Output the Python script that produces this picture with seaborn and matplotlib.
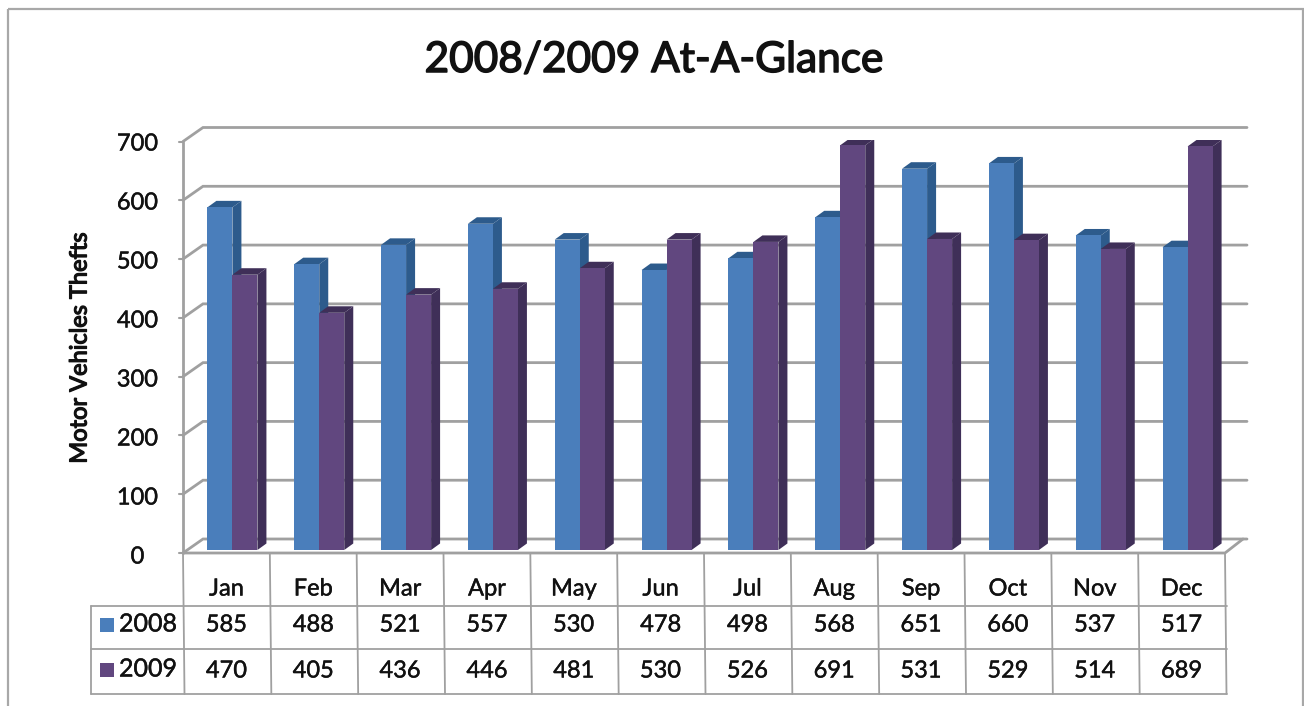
import pandas as pd
import numpy as np
import matplotlib
matplotlib.use('Agg')
import matplotlib.pyplot as plt
import matplotlib.patheffects as pe
from matplotlib.patches import Polygon, Rectangle
import seaborn as sns

sns.set_theme(style='white')
plt.rcParams['font.family'] = ['Lato', 'DejaVu Sans']

# === Data ===
months = ['Jan', 'Feb', 'Mar', 'Apr', 'May', 'Jun', 'Jul', 'Aug', 'Sep', 'Oct', 'Nov', 'Dec']
thefts_2008 = [585, 488, 521, 557, 530, 478, 498, 568, 651, 660, 537, 517]
thefts_2009 = [470, 405, 436, 446, 481, 530, 526, 691, 531, 529, 514, 689]
y_ticks = [0, 100, 200, 300, 400, 500, 600, 700]

df = pd.DataFrame({
    'month': months * 2,
    'thefts': thefts_2008 + thefts_2009,
    'year': ['2008'] * 12 + ['2009'] * 12,
})

W, H = 1304, 706
BLUE, BLUE_DK = '#4a7ebb', '#2d5b8c'
PURPLE, PURPLE_DK = '#61477f', '#3f2f58'
LINE = '#a0a0a0'
TEXT = '#111111'
# thickens the regular face a little, the reference text sits between regular and bold
semi = [pe.withStroke(linewidth=0.3, foreground=TEXT)]

fig = plt.figure(figsize=(W / 100, H / 100), dpi=100, facecolor='white')

# background layer in pixel coordinates, for frame, walls and table
bg = fig.add_axes([0, 0, 1, 1])
bg.set_xlim(0, W)
bg.set_ylim(H, 0)
bg.axis('off')
bg.add_patch(Rectangle((7.5, 8.5), 1295.5, 720, fill=False, ec='#a8a8a8', lw=1.6))

# === Walls and grid ===
x_left, x_right = 183, 1225
px_per_unit = 411.5 / 700
dx_wall, dy_wall = 20, 14
y_zero = 553


def val_y(v):
    return y_zero - v * px_per_unit


for v in y_ticks:
    y = val_y(v)
    bg.plot([x_left, x_left + dx_wall, x_right + dx_wall + 2], [y, y - dy_wall, y - dy_wall], color=LINE, lw=2, solid_joinstyle='miter')
    bg.plot([x_left - 4, x_left], [y, y], color=LINE, lw=1.5)
    bg.text(137.5, 557 - v * 0.59, str(v), ha='center', va='center', fontsize=17, color=TEXT, path_effects=semi)

bg.plot([x_left, x_left], [val_y(700), y_zero], color=LINE, lw=2)
bg.plot([x_left, x_right, x_right + dx_wall - 2], [y_zero, y_zero, y_zero - dy_wall], color=LINE, lw=2)

# === Bars ===
bar_shift = 6
ax = fig.add_axes([(x_left + bar_shift) / W, (H - 550) / H, (x_right - x_left) / W, 410 / H])
ax.patch.set_alpha(0)
sns.barplot(data=df, x='month', y='thefts', hue='year', palette=[BLUE, PURPLE], width=0.576,
            gap=0, saturation=1, legend=False, ax=ax)
ax.set_xlim(-0.5, 11.5)
ax.set_ylim(0, 700)
ax.axis('off')

# 3D side and top faces taken from the bars seaborn drew
depth_x = 9 / ((x_right - x_left) / 12)
depth_y = 6.5 * 700 / 410
for bar in list(ax.patches):
    bx, bw, bh = bar.get_x(), bar.get_width(), bar.get_height()
    dark = BLUE_DK if bar.get_facecolor()[2] > 0.6 else PURPLE_DK
    order = 3 if dark == BLUE_DK else 4
    bar.set_zorder(order + 0.5)
    bar.set_linewidth(0)
    side = [(bx + bw, 0), (bx + bw + depth_x, depth_y), (bx + bw + depth_x, bh + depth_y), (bx + bw, bh)]
    top = [(bx, bh), (bx + depth_x, bh + depth_y), (bx + bw + depth_x, bh + depth_y), (bx + bw, bh)]
    ax.add_patch(Polygon(side, closed=True, fc=dark, ec='none', zorder=order))
    ax.add_patch(Polygon(top, closed=True, fc=dark, ec='none', zorder=order))

# === Data table ===
col_w = (x_right - x_left) / 12
row_y = [606, 649, 694]
tx = {'ha': 'center', 'va': 'center', 'color': TEXT, 'path_effects': semi}
for i in range(13):
    x = x_left + i * col_w
    bg.plot([x, x + 1.5], [y_zero, row_y[2]], color=LINE, lw=1.3)
bg.plot([91, 91], [row_y[0], row_y[2]], color=LINE, lw=1.3)
for y in row_y:
    bg.plot([91, x_right + 1.5], [y, y], color=LINE, lw=1.3)

for i, m in enumerate(months):
    xc = x_left + (i + 0.5) * col_w
    bg.text(xc, 589, m, fontsize=17, **tx)
    bg.text(xc, 625, str(thefts_2008[i]), fontsize=17, **tx)
    bg.text(xc, 671, str(thefts_2009[i]), fontsize=17, **tx)

for yr, yc, colr in [('2008', 625, BLUE), ('2009', 670, PURPLE)]:
    bg.add_patch(Rectangle((100, yc - 7), 14, 14, fc=colr, ec='none'))
    bg.text(148, yc - 1, yr, fontsize=18, **tx)

# === Titles ===
fig.text(654 / W, 1 - 60 / H, '2008/2009 At-A-Glance', ha='center', va='center', fontsize=30.5, color=TEXT,
         path_effects=[pe.withStroke(linewidth=1.1, foreground=TEXT)])
fig.text(80 / W, 1 - 348 / H, 'Motor Vehicles Thefts', rotation=90, ha='center', va='center', fontsize=17, color=TEXT,
         path_effects=[pe.withStroke(linewidth=0.9, foreground=TEXT)])

fig.savefig('out.png', dpi=100)
